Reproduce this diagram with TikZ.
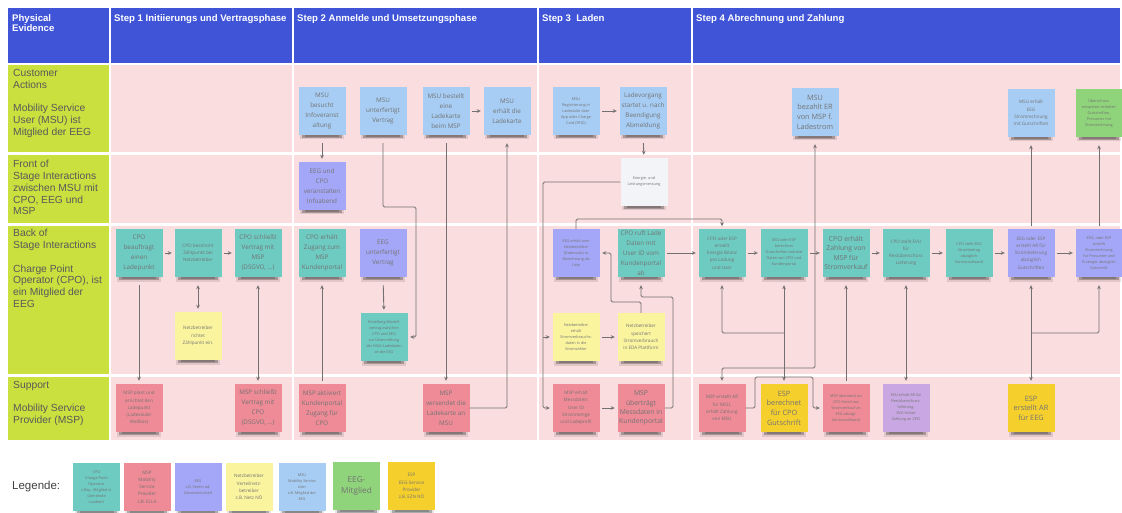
\documentclass[tikz,border=0pt]{standalone}
\usepackage{fontspec}
\setmainfont{Liberation Sans}
\newfontfamily\notefont{Open Sans}
\usetikzlibrary{arrows.meta}

\definecolor{hdrblue}{HTML}{3F54D7}
\definecolor{lanelime}{HTML}{C9E03F}
\definecolor{lanepink}{HTML}{FADDDE}
\definecolor{cpoteal}{HTML}{6DCBC2}
\definecolor{mspred}{HTML}{EE8B96}
\definecolor{eegviolet}{HTML}{A4A7F7}
\definecolor{nbyellow}{HTML}{FAF49F}
\definecolor{msublue}{HTML}{A7CDF4}
\definecolor{memgreen}{HTML}{8FD47B}
\definecolor{espgold}{HTML}{F5CF2C}
\definecolor{evulilac}{HTML}{C8A7E2}
\definecolor{plainwhite}{HTML}{F3F4F7}
\definecolor{wirecol}{HTML}{747072}

\tikzset{
  hdrtext/.style={text=white, anchor=north west, inner sep=0pt, align=left,
    font=\bfseries\fontsize{9.6}{10.5}\selectfont},
  lanetext/.style={text=black!65, anchor=north west, inner sep=0pt, align=left,
    font=\fontsize{10.3}{11.8}\selectfont},
  sticky/.style={minimum width=47pt, minimum height=48pt, inner sep=0pt,
    align=center, text=black!55},
  fsN/.style={font=\notefont\fontsize{6.3}{10}\selectfont},
  fsM/.style={font=\notefont\fontsize{6.8}{9.2}\selectfont},
  fsS/.style={font=\notefont\fontsize{4.6}{7.2}\selectfont},
  fsT/.style={font=\notefont\fontsize{3.8}{6}\selectfont},
  fsL/.style={font=\notefont\fontsize{7.3}{9.6}\selectfont},
  fsX/.style={font=\notefont\fontsize{8.2}{11.5}\selectfont},
  wire/.style={draw=wirecol, line width=0.9pt, rounded corners=1.5pt,
    -{Stealth[length=4pt,width=3.6pt]}},
  wiretwo/.style={wire, {Stealth[length=4pt,width=3.6pt]}-{Stealth[length=4pt,width=3.6pt]}},
  gs/.style={shorten <=2.5pt},
  ge/.style={shorten >=2.5pt},
  gS/.style={shorten <=8pt},
  gE/.style={shorten >=8pt},
}

% sticky note with a soft band of shadow under its lower edge
% #1 name, #2 x, #3 y, #4 colour, #5 font style, #6 text
\newcommand\sticky[6]{%
  \fill[black, opacity=.10] ({#2-22},{#3+19}) rectangle ({#2+22},{#3+28.5});
  \fill[black, opacity=.25] ({#2-20},{#3+21}) rectangle ({#2+20},{#3+27});
  \fill[black, opacity=.20] ({#2-17},{#3+23}) rectangle ({#2+17},{#3+26});
  \node[sticky, fill=#4, #5] (#1) at (#2,#3) {#6};
}

\begin{document}
\begin{tikzpicture}[x=1pt, y=-1pt]
\useasboundingbox (0,0) rectangle (1122,513);
\fill[white] (0,0) rectangle (1122,513);

% header band
\foreach \xa/\xb in {8/109,111/292,294/537,539/691,693/1120}
  \fill[hdrblue] (\xa,8) rectangle (\xb,63);
% swimlanes
\foreach \ya/\yb in {65/152,155/223,226/374,377/440}{
  \fill[lanelime] (8,\ya) rectangle (109,\yb);
  \foreach \xa/\xb in {111/292,294/537,539/691,693/1120}
    \fill[lanepink] (\xa,\ya) rectangle (\xb,\yb);
}

\node[hdrtext] (hpe) at (12,14) {Physical\\Evidence};
\node[hdrtext] (hs1) at (114,14) {Step 1 Initiierungs und Vertragsphase};
\node[hdrtext] (hs2) at (297,14) {Step 2 Anmelde und Umsetzungsphase};
\node[hdrtext] (hs3) at (542,14) {Step 3\ \ Laden};
\node[hdrtext] (hs4) at (696,14) {Step 4 Abrechnung und Zahlung};

\node[lanetext] (lca) at (13,69) {Customer\\Actions\\[11.8pt]Mobility Service\\User (MSU) ist\\Mitglied der EEG};
\node[lanetext] (lfs) at (13,160) {Front of\\Stage Interactions\\zwischen MSU mit\\CPO, EEG und\\MSP};
\node[lanetext] (lbs) at (13,229) {Back of\\Stage Interactions\\[11.8pt]Charge Point\\Operator (CPO), ist\\ein Mitglied der\\EEG};
\node[lanetext] (lsp) at (13,381) {Support\\[11.8pt]Mobility Service\\Provider (MSP)};

% customer actions
\sticky{msuinfo}{322}{111}{msublue}{fsN}{MSU\\besucht\\Infoveranst\\altung}
\sticky{msuvertrag}{383}{111}{msublue}{fsN}{MSU\\unterfertigt\\Vertrag}
\sticky{msubestellt}{446}{111}{msublue}{fsN}{MSU bestellt\\eine\\Ladekarte\\beim MSP}
\sticky{msukarte}{507}{111}{msublue}{fsN}{MSU\\erhält die\\Ladekarte}
\sticky{msureg}{576}{111}{msublue}{fsT}{MSU\\Registrierung in\\Ladesäule über\\App oder Charge\\Card (RFID)}
\sticky{msulade}{643}{111}{msublue}{fsN}{Ladevorgang\\startet u. nach\\Beendigung\\Abmeldung}
\sticky{msuzahlt}{815}{112}{msublue}{fsL}{MSU\\bezahlt ER\\von MSP f.\\Ladestrom}
\sticky{msurechnung}{1031}{113}{msublue}{fsS}{MSU erhält\\EEG\\Stromrechnung\\mit Gutschriften}
\sticky{mitglied}{1099}{113}{memgreen}{fsT}{Überschuss-\\einspeiser erhalten\\Gutschriften,\\Prosumer mit\\Stromrechnung}

% front of stage
\sticky{eeginfo}{322}{186}{eegviolet}{fsN}{EEG und\\CPO\\veranstalten\\Infoabend}
\sticky{messung}{644}{182}{plainwhite}{fsT}{Energie- und\\Leistungsmessung}

% back of stage
\sticky{cpoauftrag}{139}{253}{cpoteal}{fsN}{CPO\\beauftragt\\einen\\Ladepunkt}
\sticky{cpozp}{198}{253}{cpoteal}{fsS}{CPO bestimmt\\Zählpunkt bei\\Netzbetreiber}
\sticky{cpovertrag}{258}{253}{cpoteal}{fsN}{CPO schließt\\Vertrag mit\\MSP\\(DSGVO, ...)}
\sticky{nbzp}{198}{336}{nbyellow}{fsS}{Netzbetreiber\\richtet\\Zählpunkt ein.}
\sticky{cpoportal}{322}{253}{cpoteal}{fsN}{CPO erhält\\Zugang zum\\MSP\\Kundenportal}
\sticky{eegvertrag}{383}{253}{eegviolet}{fsN}{EEG\\unterfertigt\\Vertrag}
\sticky{modell}{384}{337}{cpoteal}{fsT}{Erstellung Modell-\\vertrag zwischen\\CPO und EEG\\zur Übermittlung\\der MSU-Ladedaten\\an die EEG}
\sticky{eegdaten}{576}{253}{eegviolet}{fsT}{EEG erhält vom\\Netzbetreiber\\(Datensatz) in\\Abrechnung als\\Liste}
\sticky{cporuft}{641}{253}{cpoteal}{fsN}{CPO ruft Lade\\Daten mit\\User ID vom\\Kundenportal\\ab}
\sticky{nberhaelt}{576}{337}{nbyellow}{fsT}{Netzbetreiber\\erhält\\Stromverbrauchs-\\daten in die\\Stromzähler}
\sticky{nbspeichert}{641}{337}{nbyellow}{fsS}{Netzbetreiber\\speichert\\Stromverbrauch\\in EDA Plattform}
\sticky{bilanz}{722}{253}{cpoteal}{fsS}{CPO oder ESP\\erstellt\\Energie Bilanz\\pro Ladung\\und User}
\sticky{gsdaten}{784}{253}{cpoteal}{fsT}{EEG oder ESP\\berechnet\\Gutschriften anhand\\Daten von CPO und\\Kundenportal}
\sticky{cpozahlung}{846}{253}{cpoteal}{fsM}{CPO erhält\\Zahlung von\\MSP für\\Stromverkauf}
\sticky{cpoevu}{906}{253}{cpoteal}{fsS}{CPO stellt EVU\\für\\Restüberschuss\\Lieferung}
\sticky{cpoeeg}{969}{253}{cpoteal}{fsT}{CPO stellt EEG\\Strombetrag\\abzüglich\\Serviceaufwand}
\sticky{eegar}{1031}{253}{eegviolet}{fsS}{EEG oder ESP\\erstellt AR für\\Stromlieferung\\abzüglich\\Gutschriften}
\sticky{eegrechnung}{1099}{253}{eegviolet}{fsT}{EEG, oder ESP\\erstellt\\Stromrechnung\\für Prosumer und\\Erzeuger abzüglich\\Gutschrift}

% support
\sticky{mspplant}{139}{408}{mspred}{fsS}{MSP plant und\\errichtet den\\Ladepunkt\\(Ladesäule/\\Wallbox)}
\sticky{mspvertrag}{258}{408}{mspred}{fsN}{MSP schließt\\Vertrag mit\\CPO\\(DSGVO, ...)}
\sticky{mspportal}{322}{408}{mspred}{fsN}{MSP aktiviert\\Kundenportal\\Zugang für\\CPO}
\sticky{mspkarte}{446}{408}{mspred}{fsN}{MSP\\versendet die\\Ladekarte an\\MSU}
\sticky{mspmess}{576}{408}{mspred}{fsS}{MSP erhält\\Messdaten:\\User ID\\Strommenge\\und Ladeprofil}
\sticky{mspueber}{641}{408}{mspred}{fsM}{MSP\\überträgt\\Messdaten in\\Kundenportal}
\sticky{msparmsu}{722}{408}{mspred}{fsS}{MSP erstellt AR\\für MSU,\\erhält Zahlung\\von MSU}
\sticky{espgs}{784}{408}{espgold}{fsL}{ESP\\berechnet\\für CPO\\Gutschrift}
\sticky{mspcpo}{846}{408}{mspred}{fsT}{MSP überweist an\\CPO Anteil aus\\Stromverkauf an\\EEG abzügl.\\Serviceaufwand}
\sticky{evuzahlt}{906}{408}{evulilac}{fsT}{EVU erhält AR für\\Restüberschuss-\\lieferung,\\EVU leistet\\Zahlung an CPO}
\sticky{espar}{1031}{408}{espgold}{fsL}{ESP\\erstellt AR\\für EEG}

% junctions of branching connectors
\coordinate (mtap) at (543,337);
\coordinate (gsjoin) at (784,333);
\coordinate (arjoin) at (1031,333);

% step 1
\draw[wire, gs, ge] (cpoauftrag.east) -- (cpozp.west);
\draw[wire, gs, ge] (cpozp.east) -- (cpovertrag.west);
\draw[wiretwo, gS, shorten >=3pt] (cpozp.south) -- (nbzp.north);
\draw[wire, gS, shorten >=3pt] (cpoauftrag.south) -- (mspplant.north);
\draw[wiretwo, gS, shorten >=3pt] (cpovertrag.south) -- (mspvertrag.north);
% step 2
\draw[wire, gS, shorten >=3pt] (msuinfo.south) -- (eeginfo.north);
\draw[wire, gS, ge] (msuvertrag.south) |- (416,207) |- (modell.east);
\draw[wire, gS, shorten >=3pt] (eegvertrag.south) -- (modell.north);
\draw[wire, gs, ge] (msubestellt.east) -- (msukarte.west);
\draw[wire, gS, shorten >=3pt] (msubestellt.south) -- (mspkarte.north);
\draw[wire, gE] (mspkarte.east) -| (msukarte.south);
\draw[wire, shorten <=3pt, gE] (mspportal.north) -- (cpoportal.south);
% step 3
\draw[wire, gs, ge] (msureg.east) -- (msulade.west);
\draw[wire, gS, shorten >=3pt] (msulade.south) -- (messung.north);
\draw[wire, ge] (messung.west) -| (543,408) -- (mspmess.west);
\draw[wire, ge] (mtap) -- (nberhaelt.west);
\draw[wire, gs, ge] (nberhaelt.east) -- (nbspeichert.west);
\draw[wire, ge] (nbspeichert.north) |- (611,302) |- (eegdaten.east);
\draw[wire, gs, ge] (mspmess.east) -- (mspueber.west);
\draw[wire, gE] (mspueber.east) -| (673,297) -| (cporuft.south);
\draw[wire, ge] (eegdaten.north) |- (722,219) -- (bilanz.north);
\draw[wire, gs, ge] (cporuft.east) -- (bilanz.west);
% step 4
\draw[wire, gs, ge] (bilanz.east) -- (gsdaten.west);
\draw[wire, gs, ge] (gsdaten.east) -- (cpozahlung.west);
\draw[wire, gs, ge] (cpozahlung.east) -- (cpoevu.west);
\draw[wire, gs, ge] (cpoevu.east) -- (cpoeeg.west);
\draw[wire, gs, ge] (cpoeeg.east) -- (eegar.west);
\draw[wire, gs, ge] (eegar.east) -- (eegrechnung.west);
\draw[wiretwo, shorten <=3pt, gE] (espgs.north) -- (gsdaten.south);
\draw[wire, gE] (gsjoin) -| (bilanz.south);
\draw[wiretwo, shorten <=3pt, gE] (msparmsu.north) |- (815,368) -- (msuzahlt.south);
\draw[wire, ge] (msparmsu.east) -| (755,377) -| (813,408) -- (mspcpo.west);
\draw[wire, shorten <=3pt, gE] (mspcpo.north) -- (cpozahlung.south);
\draw[wiretwo, gS, shorten >=3pt] (cpoevu.south) -- (evuzahlt.north);
\draw[wiretwo, gS, shorten >=3pt] (eegar.south) -- (espar.north);
\draw[wire, gE] (arjoin) -| (eegrechnung.south);
\draw[wire, shorten <=3pt, gE] (eegar.north) -- (msurechnung.south);
\draw[wire, shorten <=3pt, gE] (eegrechnung.north) -- (mitglied.south);

% legend
\node[anchor=west, inner sep=0pt, text=black!75, font=\fontsize{11.5}{13}\selectfont] (legend) at (12,487) {Legende:};
\sticky{lgcpo}{96.5}{487}{cpoteal}{fsT}{CPO\\Charge Point\\Operator\\z.Bsp. Mitglied d.\\Gemeinde\\Landwirt}
\sticky{lgmsp}{147}{487}{mspred}{fsS}{MSP\\Mobility\\Service\\Provider\\z.B. ELLA}
\sticky{lgeeg}{198}{487}{eegviolet}{fsT}{EEG\\z.B. Verein od.\\Genossenschaft}
\sticky{lgnb}{249}{487}{nbyellow}{fsS}{Netzbetreiber\\Verteilnetz-\\betreiber\\z.B. Netz NÖ}
\sticky{lgmsu}{302}{487}{msublue}{fsT}{MSU\\Mobility Service\\User\\z.B. Mitglied der\\EEG}
\sticky{lgmem}{356.5}{486}{memgreen}{fsX}{EEG-\\Mitglied}
\sticky{lgesp}{411.5}{486}{espgold}{fsS}{ESP\\EEG-Service\\Provider\\z.B. EZN NÖ}
\end{tikzpicture}
\end{document}
